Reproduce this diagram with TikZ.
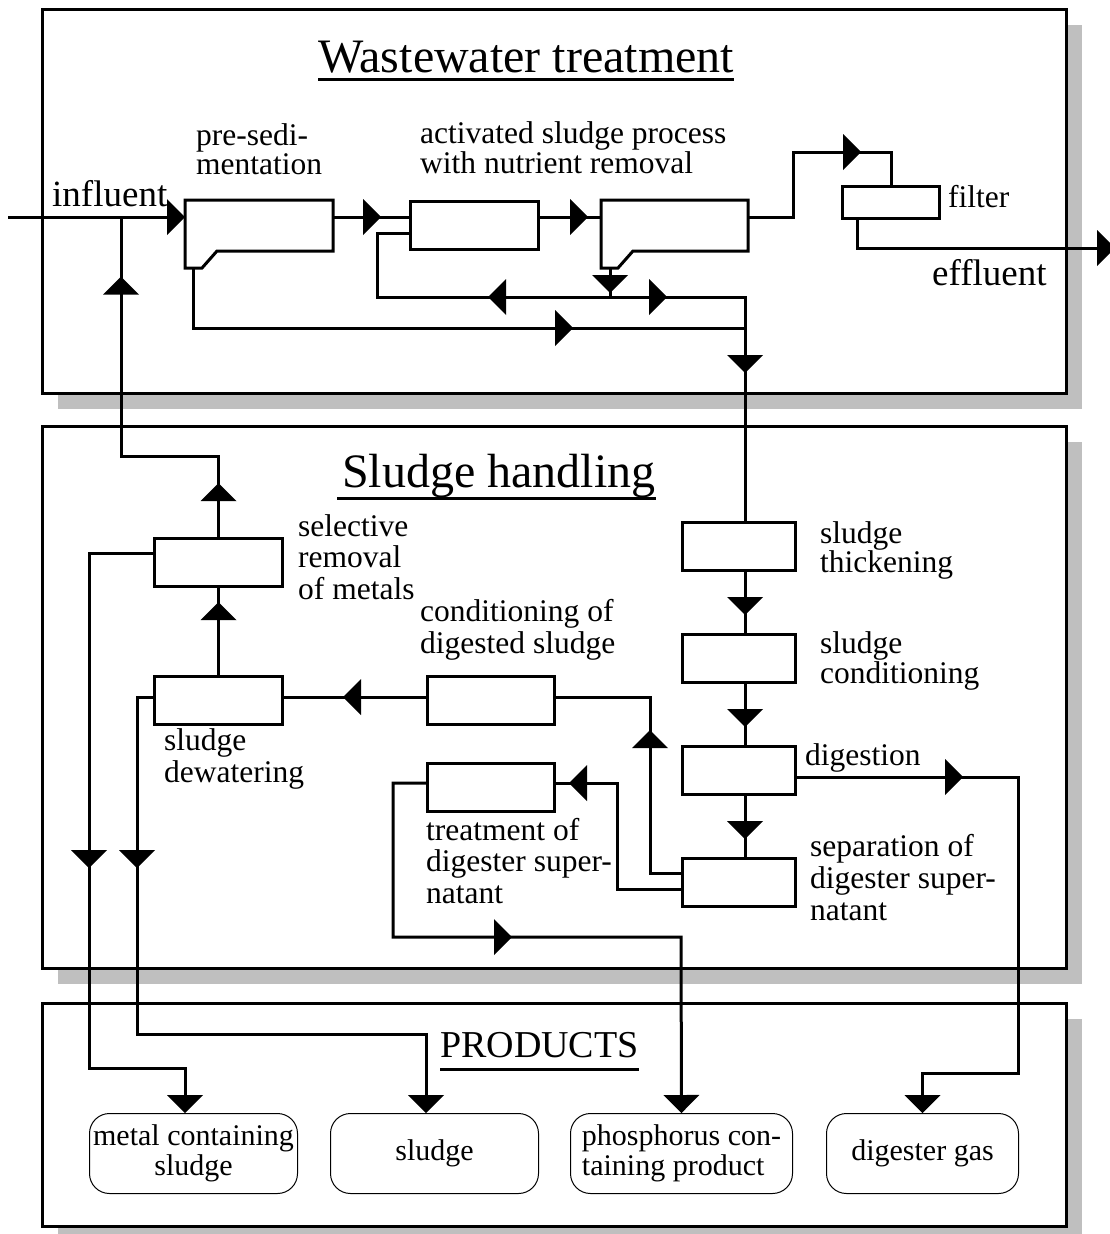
\documentclass[tikz,border=0pt]{standalone}
\usepackage{fontspec}
\setmainfont{Liberation Serif}
\usetikzlibrary{arrows.meta,shadows,decorations.markings}
\tikzstyle{panel}=[draw,line width=3pt,fill=white,anchor=north west,minimum width=1024pt,inner sep=0pt,drop shadow={shadow xshift=15pt,shadow yshift=-15pt,fill=black!25,opacity=1}]
\tikzstyle{procbox}=[draw,line width=3pt,fill=white,anchor=north west,minimum height=48pt,inner sep=0pt]
\tikzstyle{product}=[draw,line width=1pt,rounded corners=20pt,fill=white,anchor=north west,minimum height=80pt,inner sep=0pt,align=center,font=\fontsize{30}{30}\selectfont]
\tikzstyle{flow}=[draw,line width=3pt]
\tikzstyle{lbl}=[anchor=base west,inner sep=0pt,align=left,font=\fontsize{31.5}{31.5}\selectfont]
\tikzstyle{banner}=[anchor=base west,inner sep=0pt,font=\fontsize{48}{48}\selectfont]
\tikzset{mid/.style={postaction={decorate,decoration={markings,mark=at position #1 with {\arrow{>}}}}}}

\begin{document}
\begin{tikzpicture}[x=1pt,y=-1pt,>={Triangle[length=18pt,width=36pt,line width=0pt]}]
\useasboundingbox (0,0) rectangle (1109,1234);

% Panels
\foreach \pos/\name/\bh in {{(41,8)/wwt/384}, {(41,425)/slh/542}, {(41,1002)/prd/223}}
    \node[panel, minimum height=\bh pt] (\name) at \pos {};

% Headings
\node[banner] (ttlw) at (318,72) {Wastewater treatment};
\node[banner] (ttls) at (342,487) {Sludge handling};
\node[banner, font=\fontsize{38}{38}\selectfont] (ttlp) at (440,1057) {PRODUCTS};
\draw[line width=3pt] ([yshift=-7pt]ttlw.base west) -- ([yshift=-7pt]ttlw.base east);
\draw[line width=3pt] ([xshift=-5pt,yshift=-11pt]ttls.base west) -- ([yshift=-11pt]ttls.base east);
\draw[line width=3pt] ([yshift=-12pt]ttlp.base west) -- ([yshift=-12pt]ttlp.base east);

% Wastewater treatment
\node[procbox, draw=none, minimum width=145pt] (ps) at (185,200) {};
\node[procbox, minimum width=128pt] (as) at (409,200) {};
\node[procbox, draw=none, minimum width=144pt] (sc) at (601,200) {};
\node[procbox, minimum width=97pt, minimum height=32pt] (fi) at (841,185) {};
\foreach \t in {ps,sc}
    \draw[line width=3pt, fill=white] (\t.north west) -- (\t.north east) -- (\t.south east) -- ([xshift=32pt]\t.south west) -- ([xshift=17pt,yshift=-17pt]\t.south west) -- ([yshift=-17pt]\t.south west) -- cycle;

% Sludge handling
\foreach \pos/\name/\bw in {{(153,537)/sm/128}, {(153,675)/dw/128}, {(426,675)/cd/127}, {(426,762)/ts/127}, {(681,521)/th/113}, {(681,633)/co/113}, {(681,745)/dg/113}, {(681,857)/sep/113}}
    \node[procbox, minimum width=\bw pt] (\name) at \pos {};

% Products
\node[product, minimum width=208pt] (met) at (89,1113) {metal containing\\sludge};
\node[product, minimum width=208pt] (slu) at (330,1113) {sludge};
\node[product, minimum width=222pt, align=left] (phos) at (570,1113) {phosphorus con-\\taining product};
\node[product, minimum width=192pt] (gas) at (826,1113) {digester gas};

%Label (base = last line)
\node[lbl, font=\fontsize{37}{37}\selectfont] (infl) at (52,206) {influent};
\node[lbl, font=\fontsize{31.5}{27}\selectfont] (psl) at (196,174) {pre-sedi-\\mentation};
\node[lbl, font=\fontsize{31.5}{30}\selectfont] (asl) at (420,173) {activated sludge process\\with nutrient removal};
\node[lbl] (fil) at (948,207) {filter};
\node[lbl, font=\fontsize{37}{37}\selectfont] (effl) at (932,285) {effluent};
\node[lbl] (sml) at (298,599) {selective\\removal\\of metals};
\node[lbl] (cdl) at (420,653) {conditioning of\\digested sludge};
\node[lbl] (dwl) at (164,782) {sludge\\dewatering};
\node[lbl] (tsl) at (426,903) {treatment of\\digester super-\\natant};
\node[lbl, font=\fontsize{31.5}{29}\selectfont] (thl) at (820,572) {sludge\\thickening};
\node[lbl, font=\fontsize{31.5}{28}\selectfont] (col) at (820,683) {sludge\\conditioning};
\node[lbl] (dgl) at (805,765) {digestion};
\node[lbl, font=\fontsize{31.5}{32}\selectfont] (sepl) at (810,920) {separation of\\digester super-\\natant};

% Edges
\coordinate (inl) at (8,217);
\coordinate (eff) at (1115,248);
\coordinate (fup) at (793,152);
\coordinate (rj) at (610,297);
\coordinate (sj) at (745,328);
\coordinate (rbend) at (121,456);
\coordinate (mbend) at (89,1068);
\coordinate (dbend) at (137,1034);
\coordinate (pbend) at (681,937);
\coordinate (gbend) at (1018,1073);

    %water line
\draw[flow, ->] (inl) -- ([yshift=-17pt]ps.north west);
\foreach \source/\dest in {ps/as, as/sc}
    \draw[flow, mid=48pt] ([yshift=-17pt]\source.north east) -- ([yshift=-17pt]\dest.north west);
\draw[flow, mid=178pt] ([yshift=-17pt]sc.north east) -| (fup) -| (fi.north);
\draw[flow, ->] ([xshift=16pt]fi.south west) |- (eff);

    %sludge from clarifiers
\draw[flow, mid=25pt] ([xshift=9pt,yshift=-17pt]sc.south west) -- (rj);
\draw[flow, mid=122pt] (rj) -| ([xshift=-32pt,yshift=-33pt]as.north west) -- ([yshift=-33pt]as.north west);
\draw[flow, mid=57pt, mid=211pt] (rj) -| ([xshift=64pt]th.north west);
\draw[flow, mid=440pt] ([xshift=8pt,yshift=-17pt]ps.south west) |- (sj);

    %sludge line
\foreach \source/\dest in {th/co, co/dg, dg/sep}
    \draw[flow, mid=43pt] ([xshift=64pt]\source.south west) -- ([xshift=64pt]\dest.north west);
\draw[flow, ->, mid=166pt] ([yshift=-32pt]dg.north east) -| (gbend) -| (gas.north);
\draw[flow, mid=174pt] ([yshift=-16pt]sep.north west) -- ++(-31,0) |- ([yshift=-22pt]cd.north east);
\draw[flow, mid=83pt] ([yshift=-22pt]cd.north west) -- ([yshift=-22pt]dw.north east);
\draw[flow, mid=218pt] ([yshift=-32pt]sep.north west) -- ++(-64,0) |- ([yshift=-21pt]ts.north east);
\draw[flow, ->, mid=306pt] ([yshift=-21pt]ts.north west) -- ++(-33,0) |- (pbend) -- (phos.north);
\draw[flow, mid=73pt] (dw.north) -- (sm.south);
\draw[flow, mid=54pt, mid=358pt] (sm.north) |- (rbend) -- (rbend |- inl);
\draw[flow, ->, mid=379pt] ([yshift=-16pt]sm.north west) -| (mbend) -| ([xshift=96pt]met.north west);
\draw[flow, ->, mid=187pt] ([yshift=-22pt]dw.north west) -| (dbend) -| ([xshift=96pt]slu.north west);

\end{tikzpicture}
\end{document}
